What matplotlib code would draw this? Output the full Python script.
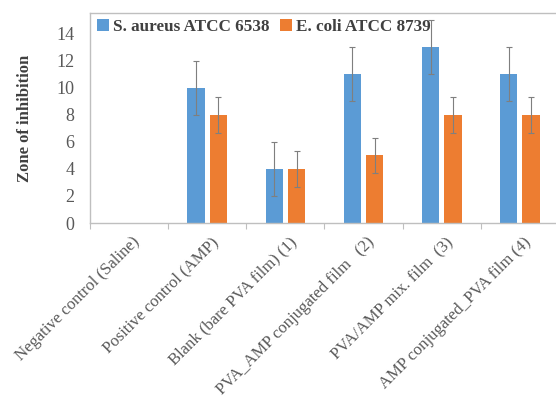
import numpy as np
import matplotlib
matplotlib.use('Agg')
import matplotlib.pyplot as plt
import matplotlib.transforms as mtransforms

categories = ['Negative control (Saline)', 'Positive control (AMP)', 'Blank (bare PVA film) (1)',
              'PVA_AMP conjugated film   (2)', 'PVA/AMP mix. film  (3)', 'AMP conjugated_PVA film (4)']
s_aureus = [0, 10, 4, 11, 13, 11]
s_aureus_err = [0, 2, 2, 2, 2, 2]
e_coli = [0, 8, 4, 5, 8, 8]
e_coli_err = [0, 1.33, 1.3, 1.33, 1.33, 1.33]

plt.rcParams['font.family'] = ['Liberation Serif', 'DejaVu Serif']

fig = plt.figure(figsize=(5.56, 4), dpi=100)
ax = fig.add_axes([90 / 556, 177 / 400, 469 / 556, 210 / 400])

x = np.arange(len(categories))
w = 0.22
off = 0.143
err_kw = dict(ecolor='#7f7f7f', elinewidth=0.8, capsize=2, capthick=0.8)
# zero values have no visible error bar
yerr1 = [e if v > 0 else np.nan for v, e in zip(s_aureus, s_aureus_err)]
yerr2 = [e if v > 0 else np.nan for v, e in zip(e_coli, e_coli_err)]
ax.bar(x - off, s_aureus, w, color='#5b9bd5', label='S. aureus ATCC 6538',
       yerr=yerr1, error_kw=err_kw, zorder=2)
ax.bar(x + off, e_coli, w, color='#ed7d31', label='E. coli ATCC 8739',
       yerr=yerr2, error_kw=err_kw, zorder=2)

ax.set_xlim(-0.5, len(categories) - 0.5)
ax.set_ylim(0, 15.55)
ax.set_yticks(range(0, 15, 2))
ax.tick_params(axis='y', length=0, pad=11, labelsize=13, labelcolor='#595959')

# category boundary ticks on x axis, labels at centres
ax.set_xticks(np.arange(-0.5, len(categories) + 0.5, 1))
ax.set_xticklabels([])
ax.tick_params(axis='x', which='major', length=4, color='#bfbfbf', direction='out')
ax.set_xticks(x, minor=True)
ax.set_xticklabels(categories, minor=True, rotation=45, ha='right', va='top',
                   rotation_mode='anchor', fontsize=12, color='#595959')
ax.tick_params(axis='x', which='minor', length=0, pad=8)
shift = mtransforms.ScaledTranslation(3 / 100, 0, fig.dpi_scale_trans)
for lab in ax.get_xticklabels(minor=True):
    lab.set_transform(lab.get_transform() + shift)

for s in ax.spines.values():
    s.set_color('#bfbfbf')
    s.set_linewidth(1)

ax.set_ylabel('Zone of inhibition', fontsize=12, fontweight='bold', color='#404040', labelpad=17)

leg = ax.legend(loc='center left', bbox_to_anchor=(0.015, 0.935), ncol=2, frameon=False,
                prop={'weight': 'bold', 'size': 12.3}, handlelength=0.7, handleheight=0.7,
                handletextpad=0.25, columnspacing=0.6, borderpad=0, borderaxespad=0)
for t in leg.get_texts():
    t.set_color('#404040')

plt.savefig('out.png', dpi=100)
